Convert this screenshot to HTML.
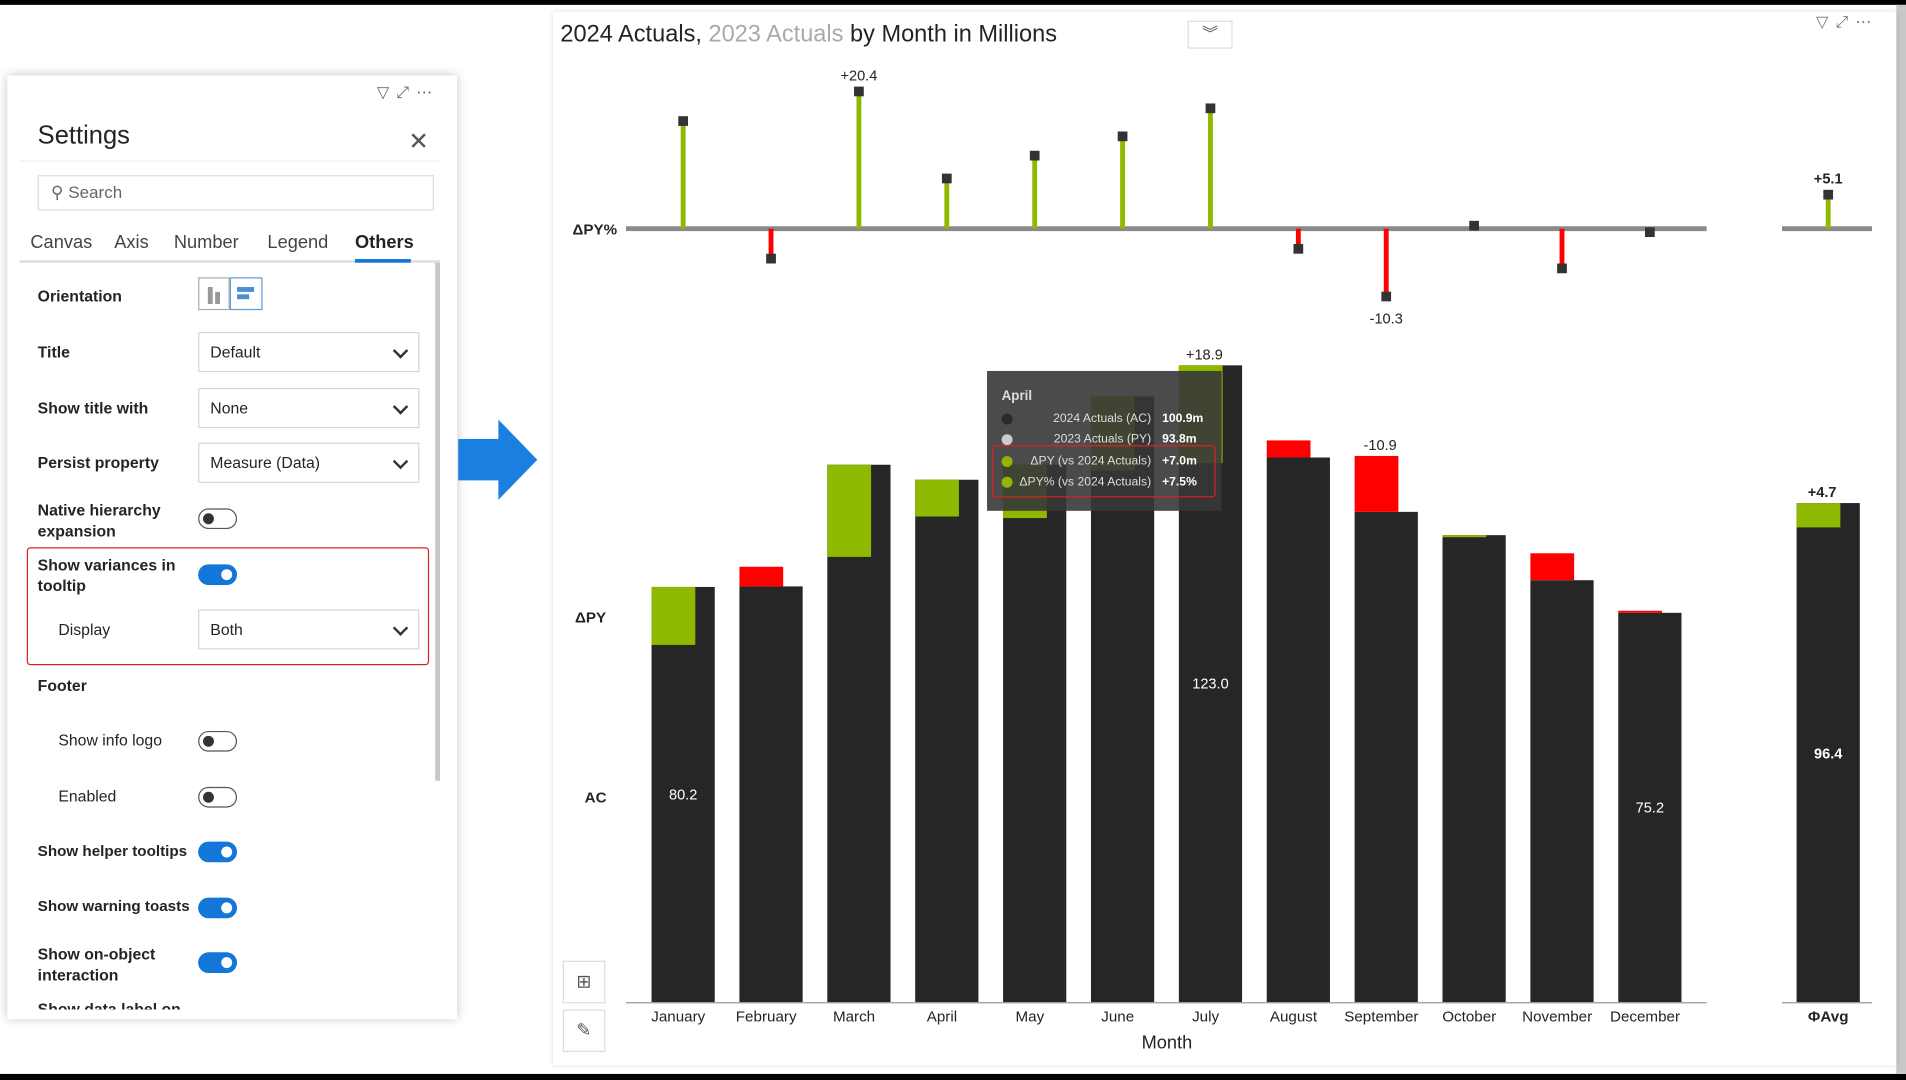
<!DOCTYPE html>
<html><head><meta charset="utf-8">
<style>
html,body{margin:0;padding:0;width:1906px;height:1080px;overflow:hidden;background:#fff;font-family:"Liberation Sans",sans-serif;}
#wrap{position:absolute;left:0;top:0;width:1568px;height:888px;transform:scale(1.21556,1.21622);transform-origin:0 0;background:#fff;}
.abs{position:absolute;}
.lbl{position:absolute;font-size:13px;color:#252423;}
.b{font-weight:bold;}
.dd{position:absolute;left:163px;width:182px;height:33px;border:1px solid #d6d6d6;box-sizing:border-box;font-size:13px;color:#252423;line-height:31px;padding-left:9px;}
.dd:after{content:"";position:absolute;right:10px;top:10px;width:7px;height:7px;border-right:2px solid #333;border-bottom:2px solid #333;transform:rotate(45deg);}
.tg{position:absolute;left:163px;width:32px;height:17px;border-radius:9px;box-sizing:border-box;}
.tg.off{border:1px solid #555;background:#fff;}
.tg.off:after{content:"";position:absolute;left:3px;top:3px;width:9px;height:9px;border-radius:50%;background:#333;}
.tg.on{background:#1277d9;}
.tg.on:after{content:"";position:absolute;right:4px;top:4px;width:9px;height:9px;border-radius:50%;background:#fff;}
.tab{position:absolute;top:129px;font-size:15px;color:#444;}
.tt{font-size:10px;}
</style></head><body>
<div id="wrap">
  <div class="abs" style="left:0;top:0;width:1568px;height:4px;background:#000"></div>
  <div class="abs" style="left:0;top:883px;width:1568px;height:5px;background:#000"></div>
  <div class="abs" style="left:1560px;top:4px;width:8px;height:879px;background:#c8c8c8"></div>

  <!-- settings panel -->
  <div class="abs" style="left:6px;top:62px;width:370px;height:776px;background:#fff;box-shadow:0 0 8px rgba(0,0,0,0.25);">
    <div class="abs" style="left:304px;top:6px;font-size:13px;color:#666;letter-spacing:6px">▽⤢⋯</div>
    <div class="abs" style="left:25px;top:38px;font-size:21px;color:#252423">Settings</div>
    <div class="abs" style="left:330px;top:42px;font-size:20px;color:#555">✕</div>
    <div class="abs" style="left:10px;top:70px;width:346px;height:1px;background:#eee"></div>
    <div class="abs" style="left:25px;top:82px;width:326px;height:29px;border:1px solid #ddd;box-sizing:border-box;font-size:14px;color:#666;line-height:27px;padding-left:10px">⚲ Search</div>
    <div class="tab" style="left:19px">Canvas</div>
    <div class="tab" style="left:88px">Axis</div>
    <div class="tab" style="left:137px">Number</div>
    <div class="tab" style="left:214px">Legend</div>
    <div class="tab" style="left:286px;color:#252423;font-weight:bold">Others</div>
    <div class="abs" style="left:10px;top:152px;width:346px;height:2px;background:#ddd"></div>
    <div class="abs" style="left:286px;top:151px;width:46px;height:3px;background:#1277d9"></div>
    <div class="abs" style="left:352px;top:154px;width:4px;height:426px;background:#c8c8c8"></div>
  </div>
  <div class="lbl b" style="left:31px;top:236px">Orientation</div>
  <div class="abs" style="left:163px;top:228px;width:26px;height:27px;border:1px solid #aaa;box-sizing:border-box"><div class="abs" style="left:7px;top:7px;width:4px;height:14px;background:#999"></div><div class="abs" style="left:13px;top:11px;width:4px;height:10px;background:#999"></div></div>
  <div class="abs" style="left:189px;top:228px;width:27px;height:27px;border:1px solid #5b9bd5;box-sizing:border-box"><div class="abs" style="left:5px;top:7px;width:14px;height:4px;background:#4a8fd8"></div><div class="abs" style="left:5px;top:13px;width:10px;height:4px;background:#4a8fd8"></div></div>
  <div class="lbl b" style="left:31px;top:282px">Title</div>
  <div class="dd" style="top:273px">Default</div>
  <div class="lbl b" style="left:31px;top:328px">Show title with</div>
  <div class="dd" style="top:319px">None</div>
  <div class="lbl b" style="left:31px;top:373px">Persist property</div>
  <div class="dd" style="top:364px">Measure (Data)</div>
  <div class="lbl b" style="left:31px;top:411px;line-height:17px">Native hierarchy<br>expansion</div>
  <div class="tg off" style="top:418px"></div>
  <div class="abs" style="left:22px;top:450px;width:331px;height:97px;border:1.5px solid #e02020;border-radius:3px;box-sizing:border-box"></div>
  <div class="lbl b" style="left:31px;top:456px;line-height:17px">Show variances in<br>tooltip</div>
  <div class="tg on" style="top:464px"></div>
  <div class="lbl" style="left:48px;top:510px">Display</div>
  <div class="dd" style="top:501px">Both</div>
  <div class="lbl b" style="left:31px;top:556px">Footer</div>
  <div class="lbl" style="left:48px;top:601px">Show info logo</div>
  <div class="tg off" style="top:601px"></div>
  <div class="lbl" style="left:48px;top:647px">Enabled</div>
  <div class="tg off" style="top:647px"></div>
  <div class="lbl b" style="left:31px;top:693px;font-size:12.5px">Show helper tooltips</div>
  <div class="tg on" style="top:692px"></div>
  <div class="lbl b" style="left:31px;top:738px;font-size:12.5px">Show warning toasts</div>
  <div class="tg on" style="top:738px"></div>
  <div class="lbl b" style="left:31px;top:776px;line-height:17px">Show on-object<br>interaction</div>
  <div class="tg on" style="top:783px"></div>
  <div class="abs" style="left:31px;top:822px;height:8px;overflow:hidden;font-size:13px;font-weight:bold;color:#252423">Show data label on</div>

  <!-- arrow -->
  <svg class="abs" style="left:376px;top:343px" width="68" height="70"><polygon points="1,18 34,18 34,2 66,35 34,68 34,52 1,52" fill="#1a7fe0"/></svg>

  <!-- chart panel -->
  <div class="abs" style="left:455px;top:10px;width:1105px;height:866px;background:#fff;box-shadow:0 0 4px rgba(0,0,0,0.15)"></div>
  <div class="abs" style="left:461px;top:17px;font-size:19.4px;color:#252423">2024 Actuals, <span style="color:#aaa">2023 Actuals</span> by Month in Millions</div>
  <div class="abs" style="left:977px;top:17px;width:37px;height:23px;border:1px solid #ddd;box-sizing:border-box;text-align:center;font-size:13px;color:#555;line-height:20px">︾</div>
  <div class="abs" style="left:1494px;top:10px;font-size:13px;color:#777;letter-spacing:6px">▽⤢⋯</div>
  <div class="abs" style="left:463px;top:790px;width:35px;height:35px;border:1px solid #ddd;box-sizing:border-box;text-align:center;line-height:33px;color:#555;font-size:15px">⊞</div>
  <div class="abs" style="left:463px;top:830px;width:35px;height:35px;border:1px solid #ddd;box-sizing:border-box;text-align:center;line-height:33px;color:#555;font-size:15px">✎</div>

  <svg id="chart" class="abs" style="left:0;top:0" width="1568" height="888"></svg>

  <!-- tooltip -->
  <div class="abs" style="left:812px;top:305px;width:193px;height:115px;background:rgba(55,55,55,0.9);color:#ddd">
    <div class="abs" style="left:12px;top:15px;font-weight:bold;font-size:11px">April</div>
    <div class="abs" style="left:12px;top:35px;width:9px;height:9px;border-radius:50%;background:#2a2a2a"></div>
    <div class="abs tt" style="right:58px;top:34px">2024 Actuals (AC)</div><div class="abs b tt" style="left:144px;top:34px;color:#fff">100.9m</div>
    <div class="abs" style="left:12px;top:52px;width:9px;height:9px;border-radius:50%;background:#ccc"></div>
    <div class="abs tt" style="right:58px;top:51px">2023 Actuals (PY)</div><div class="abs b tt" style="left:144px;top:51px;color:#fff">93.8m</div>
    <div class="abs" style="left:12px;top:70px;width:9px;height:9px;border-radius:50%;background:#8fb800"></div>
    <div class="abs tt" style="right:58px;top:69px">ΔPY (vs 2024 Actuals)</div><div class="abs b tt" style="left:144px;top:69px;color:#fff">+7.0m</div>
    <div class="abs" style="left:12px;top:87px;width:9px;height:9px;border-radius:50%;background:#8fb800"></div>
    <div class="abs tt" style="right:58px;top:86px">ΔPY% (vs 2024 Actuals)</div><div class="abs b tt" style="left:144px;top:86px;color:#fff">+7.5%</div>
    <div class="abs" style="left:4px;top:61px;width:184px;height:43px;border:1.5px solid #e02020;border-radius:3px;box-sizing:border-box"></div>
  </div>
</div>
<script>
const months=["January","February","March","April","May","June","July","August","September","October","November","December"];
const acValues=[80.2,80.3,103.8,100.9,103.8,117.0,123.0,105.2,94.7,90.2,81.5,75.2];
const pyValues=[69.0,84.1,86.0,93.8,93.5,102.7,104.1,108.5,105.5,89.8,86.7,75.6];
const avgAC=96.4, avgPY=91.7;
const barLabels={0:"80.2",6:"123.0",11:"75.2"};
const pctLabels={2:"+20.4",8:"-10.3"};
const varLabels={6:"+18.9",8:"-10.9"};

const NS="http://www.w3.org/2000/svg";
const svg=document.getElementById('chart');
function mk(tag,attrs,text){const e=document.createElementNS(NS,tag);for(const k in attrs)e.setAttribute(k,attrs[k]);if(text!==undefined)e.textContent=text;svg.appendChild(e);return e;}
const baseY=824, pxPerUnit=4.257, pctBase=188, pxPerPct=5.45;
const yV=v=>baseY-v*pxPerUnit;
const yP=p=>pctBase-p*pxPerPct;
const xC=i=>562+i*72.3;
const GREEN="#8fb800",RED="#ff0000",DARK="#262626";

let e;
e=mk('line',{x1:515,x2:1404,y1:pctBase,y2:pctBase,stroke:'#8a8a8a','stroke-width':4});

e=mk('line',{x1:1466,x2:1540,y1:pctBase,y2:pctBase,stroke:'#8a8a8a','stroke-width':4});


function drawPct(cx,p,name,bold,label){
  const y=yP(p);
  const s=mk('line',{x1:cx,x2:cx,y1:pctBase,y2:y,stroke:p>=0?GREEN:RED,'stroke-width':4});
  
  const m=mk('rect',{x:cx-4,y:y-4,width:8,height:8,fill:'#333'});
  
  if(label){const t=mk('text',{x:cx,y:p>=0?y-9:y+22,'text-anchor':'middle','font-size':12,fill:'#252423','font-weight':bold?'bold':'normal'},label);
    }
}
function drawBar(cx,ac,py,name){
  const b=mk('rect',{x:cx-26,y:yV(ac),width:52,height:ac*pxPerUnit,fill:DARK});
  
  const d=ac-py;
  const v=mk('rect',{x:cx-26,y:yV(Math.max(ac,py)),width:36,height:Math.abs(d)*pxPerUnit,fill:d>=0?GREEN:RED});
  
}
months.forEach((m,i)=>{
  const cx=xC(i),ac=acValues[i],py=pyValues[i];
  const pct=(ac-py)/py*100;
  drawPct(cx,pct,m.toLowerCase(),false,pctLabels[i]);
  drawBar(cx,ac,py,m.toLowerCase());
  if(varLabels[i]){const t=mk('text',{x:cx-5,y:yV(Math.max(ac,py))-5,'text-anchor':'middle','font-size':12,fill:'#252423'},varLabels[i]);
    }
  if(barLabels[i]){const t=mk('text',{x:cx,y:yV(ac/2)+4,'text-anchor':'middle','font-size':12,fill:'#fff'},barLabels[i]);
    }
  const t=mk('text',{x:cx-4,y:840,'text-anchor':'middle','font-size':12.5,fill:'#252423'},m);
  
});
const avgX=1504;
drawPct(avgX,(avgAC-avgPY)/avgPY*100,'avg',true,'+5.1');
drawBar(avgX,avgAC,avgPY,'avg');
e=mk('text',{x:avgX-5,y:yV(Math.max(avgAC,avgPY))-5,'text-anchor':'middle','font-size':12,'font-weight':'bold',fill:'#252423'},'+4.7');

e=mk('text',{x:avgX,y:yV(avgAC/2)+5,'text-anchor':'middle','font-size':12,'font-weight':'bold',fill:'#fff'},'96.4');

e=mk('text',{x:avgX,y:840,'text-anchor':'middle','font-size':12.5,'font-weight':'bold',fill:'#252423'},'ΦAvg');

e=mk('line',{x1:515,x2:1404,y1:824.5,y2:824.5,stroke:'#999','stroke-width':1});

e=mk('line',{x1:1466,x2:1540,y1:824.5,y2:824.5,stroke:'#999','stroke-width':1});

e=mk('text',{x:960,y:862,'text-anchor':'middle','font-size':15,fill:'#252423'},'Month');

e=mk('text',{x:471,y:193,'font-size':12.5,'font-weight':'bold',fill:'#252423'},'ΔPY%');

e=mk('text',{x:473,y:512,'font-size':12.5,'font-weight':'bold',fill:'#252423'},'ΔPY');

e=mk('text',{x:481,y:660,'font-size':12.5,'font-weight':'bold',fill:'#252423'},'AC');

</script>
</body></html>
